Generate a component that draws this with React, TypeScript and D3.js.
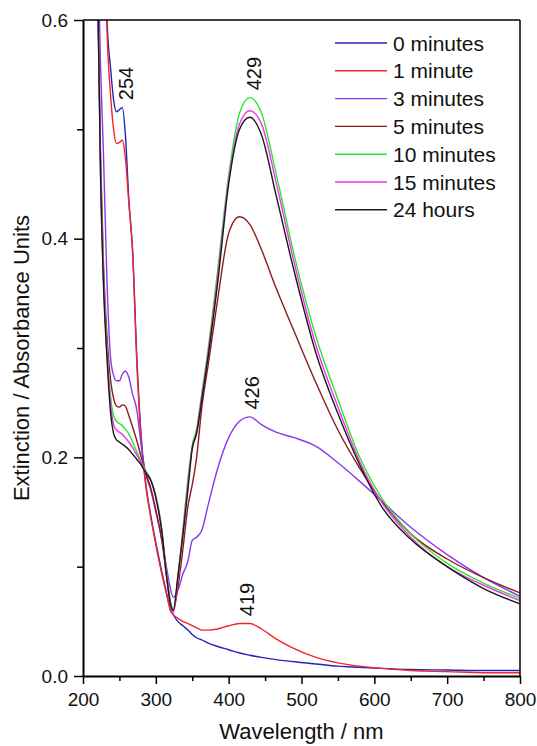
import React from 'react';
import * as d3 from 'd3';

// wavelength grid (nm) shared by every spectrum
const wavelengths = [215, 220, 224, 228, 233, 238, 242, 246, 250, 254, 258, 263, 268, 274, 280, 286, 293, 300, 308, 315, 320, 324, 330, 337, 344, 350, 356, 363, 372, 385, 400, 415, 429, 445, 465, 490, 520, 550, 580, 610, 650, 700, 750, 800];

const min0 = [1.5, 1.1, 0.9, 0.74, 0.6, 0.555, 0.527, 0.516, 0.518, 0.52, 0.497, 0.435, 0.39, 0.29, 0.218, 0.177, 0.147, 0.122, 0.096, 0.075, 0.061, 0.056, 0.05, 0.046, 0.042, 0.038, 0.035, 0.033, 0.03, 0.027, 0.024, 0.021, 0.019, 0.017, 0.015, 0.013, 0.011, 0.009, 0.008, 0.007, 0.006, 0.0055, 0.005, 0.005];
const min1 = [1.5, 1.1, 0.9, 0.74, 0.59, 0.53, 0.5, 0.487, 0.488, 0.49, 0.475, 0.432, 0.39, 0.285, 0.215, 0.175, 0.145, 0.12, 0.094, 0.074, 0.06, 0.056, 0.053, 0.05, 0.048, 0.046, 0.044, 0.042, 0.042, 0.043, 0.046, 0.048, 0.048, 0.043, 0.034, 0.025, 0.017, 0.012, 0.009, 0.007, 0.005, 0.004, 0.003, 0.003];
const min3 = [0.9, 0.68, 0.56, 0.48, 0.36, 0.29, 0.275, 0.27, 0.27, 0.276, 0.279, 0.273, 0.258, 0.243, 0.21, 0.185, 0.17, 0.15, 0.125, 0.098, 0.08, 0.072, 0.078, 0.093, 0.105, 0.124, 0.127, 0.133, 0.157, 0.19, 0.218, 0.233, 0.237, 0.23, 0.223, 0.218, 0.21, 0.195, 0.178, 0.16, 0.136, 0.111, 0.09, 0.073];
const min5 = [0.85, 0.64, 0.48, 0.38, 0.31, 0.27, 0.254, 0.247, 0.246, 0.248, 0.247, 0.238, 0.228, 0.215, 0.2, 0.186, 0.172, 0.152, 0.125, 0.09, 0.068, 0.06, 0.08, 0.115, 0.155, 0.175, 0.2, 0.245, 0.285, 0.345, 0.405, 0.42, 0.413, 0.39, 0.355, 0.315, 0.268, 0.225, 0.19, 0.16, 0.13, 0.107, 0.09, 0.076];
const min10 = [0.85, 0.64, 0.47, 0.37, 0.3, 0.255, 0.238, 0.233, 0.231, 0.229, 0.226, 0.221, 0.214, 0.205, 0.196, 0.188, 0.18, 0.165, 0.136, 0.092, 0.068, 0.06, 0.088, 0.133, 0.18, 0.211, 0.226, 0.258, 0.3, 0.372, 0.458, 0.515, 0.529, 0.515, 0.46, 0.385, 0.31, 0.253, 0.2, 0.163, 0.13, 0.103, 0.085, 0.071];
const min15 = [0.85, 0.64, 0.465, 0.365, 0.295, 0.248, 0.23, 0.225, 0.223, 0.221, 0.218, 0.214, 0.209, 0.202, 0.195, 0.187, 0.179, 0.164, 0.134, 0.09, 0.066, 0.058, 0.086, 0.13, 0.175, 0.209, 0.223, 0.255, 0.296, 0.366, 0.453, 0.505, 0.517, 0.505, 0.452, 0.378, 0.302, 0.246, 0.196, 0.159, 0.127, 0.1, 0.083, 0.069];
const hours24 = [0.85, 0.64, 0.46, 0.36, 0.29, 0.24, 0.222, 0.216, 0.214, 0.212, 0.21, 0.207, 0.203, 0.198, 0.193, 0.186, 0.179, 0.163, 0.133, 0.09, 0.066, 0.06, 0.09, 0.128, 0.17, 0.208, 0.222, 0.252, 0.293, 0.36, 0.45, 0.5, 0.511, 0.495, 0.44, 0.37, 0.295, 0.24, 0.193, 0.155, 0.125, 0.1, 0.08, 0.066];

const seriesNames = ['0 minutes', '1 minute', '3 minutes', '5 minutes', '10 minutes', '15 minutes', '24 hours'];
const seriesValues = [min0, min1, min3, min5, min10, min15, hours24];
const seriesColors = ['#2424b8', '#f2262a', '#8a38f0', '#8c1c1c', '#2ce82c', '#f032f0', '#1a1a1a'];

const xTicks = [200, 300, 400, 500, 600, 700, 800];
const xMinorTicks = [250, 350, 450, 550, 650, 750];
const yTicks = [0, 0.2, 0.4, 0.6];
const yMinorTicks = [0.1, 0.3, 0.5];

// peak annotations
const peakLabels = ['254', '429', '426', '419'];
const peakWavelengths = [254, 429, 426, 419];
const peakValues = [0.52, 0.529, 0.237, 0.048];

const totalWidth = 537;
const totalHeight = 746;
const margin = { left: 83, right: 17, top: 20, bottom: 70 };
const font = "Arial, 'Liberation Sans', sans-serif";

class App extends React.Component {
  ref = React.createRef<SVGSVGElement>();

  componentDidMount() {
    const svg = d3.select(this.ref.current);
    svg.selectAll('*').remove();

    const x = d3.scaleLinear().domain([200, 800]).range([margin.left, totalWidth - margin.right]);
    const y = d3.scaleLinear().domain([0, 0.6]).range([totalHeight - margin.bottom, margin.top]);
    const bottom = totalHeight - margin.bottom;

    svg.append('clipPath').attr('id', 'plot-clip')
      .append('rect')
      .attr('x', x(200)).attr('y', y(0.6))
      .attr('width', x(800) - x(200)).attr('height', y(0) - y(0.6));

    // spectra
    const line = d3.line<number>()
      .x((d, i) => x(wavelengths[i]))
      .y(d => y(d))
      .curve(d3.curveMonotoneX);

    const lines = svg.append('g').attr('clip-path', 'url(#plot-clip)');
    seriesValues.forEach((vals, i) => {
      lines.append('path')
        .attr('d', line(vals))
        .attr('fill', 'none')
        .attr('stroke', seriesColors[i])
        .attr('stroke-width', 1.4);
    });

    // frame top and right
    svg.append('line')
      .attr('x1', x(200)).attr('x2', x(800)).attr('y1', y(0.6)).attr('y2', y(0.6))
      .attr('stroke', '#000').attr('stroke-width', 1.5);
    svg.append('line')
      .attr('x1', x(800)).attr('x2', x(800)).attr('y1', y(0.6)).attr('y2', y(0))
      .attr('stroke', '#000').attr('stroke-width', 1.5);

    // minor ticks
    svg.append('g')
      .attr('transform', `translate(0, ${bottom})`)
      .call(d3.axisBottom(x).tickValues(xMinorTicks).tickSize(5).tickSizeOuter(0).tickFormat(() => ''))
      .call(g => g.select('.domain').remove())
      .call(g => g.selectAll('line').attr('stroke-width', 1.5));
    svg.append('g')
      .attr('transform', `translate(${margin.left}, 0)`)
      .call(d3.axisLeft(y).tickValues(yMinorTicks).tickSize(6).tickSizeOuter(0).tickFormat(() => ''))
      .call(g => g.select('.domain').remove())
      .call(g => g.selectAll('line').attr('stroke-width', 1.5));

    // major axes
    svg.append('g')
      .attr('transform', `translate(0, ${bottom})`)
      .call(d3.axisBottom(x).tickValues(xTicks).tickSize(8).tickSizeOuter(0).tickPadding(9).tickFormat(d3.format('d')))
      .call(g => g.select('.domain').attr('stroke-width', 2))
      .call(g => g.selectAll('line').attr('stroke-width', 1.5))
      .call(g => g.selectAll('text').attr('font-size', 19).attr('font-family', font).attr('fill', '#111'));
    svg.append('g')
      .attr('transform', `translate(${margin.left}, 0)`)
      .call(d3.axisLeft(y).tickValues(yTicks).tickSize(9).tickSizeOuter(0).tickPadding(6).tickFormat(d3.format('.1f')))
      .call(g => g.select('.domain').attr('stroke-width', 2))
      .call(g => g.selectAll('line').attr('stroke-width', 1.5))
      .call(g => g.selectAll('text').attr('font-size', 19).attr('font-family', font).attr('fill', '#111'));

    // axis titles
    svg.append('text')
      .attr('x', (x(200) + x(800)) / 2)
      .attr('y', 739)
      .attr('text-anchor', 'middle')
      .attr('font-family', font).attr('font-size', 22).attr('fill', '#111')
      .text('Wavelength / nm');
    svg.append('text')
      .attr('transform', `translate(29, ${(y(0) + y(0.6)) / 2 + 10}) rotate(-90)`)
      .attr('text-anchor', 'middle')
      .attr('font-family', font).attr('font-size', 22).attr('fill', '#111')
      .text('Extinction / Absorbance Units');

    // peak labels
    peakLabels.forEach((label, i) => {
      svg.append('text')
        .attr('transform', `translate(${x(peakWavelengths[i]) + 11}, ${y(peakValues[i]) - 24}) rotate(-90)`)
        .attr('text-anchor', 'middle')
        .attr('font-family', font).attr('font-size', 20).attr('fill', '#111')
        .text(label);
    });

    // legend
    const legend = svg.append('g').attr('transform', 'translate(335, 43)');
    seriesNames.forEach((name, i) => {
      const row = legend.append('g').attr('transform', `translate(0, ${i * 27.8})`);
      row.append('line')
        .attr('x1', 0).attr('x2', 52)
        .attr('stroke', seriesColors[i]).attr('stroke-width', 1.4);
      row.append('text')
        .attr('x', 58).attr('y', 7.5)
        .attr('font-family', font).attr('font-size', 21).attr('fill', '#111')
        .text(name);
    });
  }

  render() {
    return (
      <svg
        ref={this.ref}
        width={totalWidth}
        height={totalHeight}
        style={{ position: 'absolute', left: 0, top: 0, background: '#fff' }}
      />
    );
  }
}

export default App;
